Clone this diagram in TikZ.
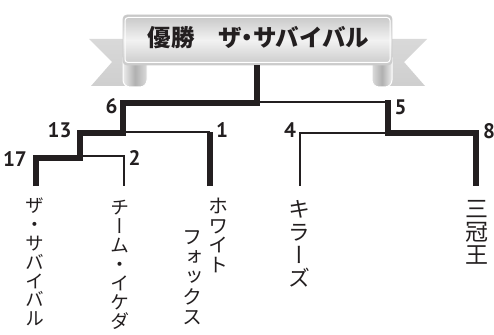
\documentclass[tikz,border=0pt]{standalone}
\usepackage{fontspec}
\newfontfamily\jpv[RawFeature=+vert]{Noto Sans CJK JP}
\newfontfamily\jph{Noto Sans CJK JP}
\newfontfamily\numf{PT Sans}
\definecolor{ink}{HTML}{231F20}
\definecolor{band}{HTML}{F2F2F2}
\tikzset{
  winline/.style={draw=ink, line width=6pt, line join=miter, line cap=butt},
  loseline/.style={draw=ink, line width=1.3pt, line join=miter},
  score/.style={font=\numf\bfseries\fontsize{21}{22}\selectfont, text=ink, inner sep=0pt, anchor=base},
  vlabel/.style={text=ink, inner sep=0pt, anchor=north, align=center},
  tail/.style={top color=gray!30, bottom color=gray!38},
}
\newcommand{\vfont}[2]{\jpv\fontsize{#1}{#2}\selectfont\lineskiplimit=-100pt\lineskip=0pt}
\begin{document}
\begin{tikzpicture}[x=1pt,y=-1pt]
\path[use as bounding box] (0,0) rectangle (494,334);

% ---------- ribbon ----------
\shade[tail] (89,39) -- (140,39) -- (140,86) -- (91,86) -- (112,62) -- cycle;
\shade[tail] (427,39) -- (375,39) -- (375,86) -- (425,86) -- (404,62) -- cycle;
% folds
\shade[left color=gray!15, right color=gray!28, middle color=gray!62, draw=white, line width=1pt]
  (147,58) -- (123,58) [rounded corners=7pt] -- (123,87) -- (147,87) [sharp corners] -- cycle;
\shade[left color=gray!28, right color=gray!15, middle color=gray!62, draw=white, line width=1pt]
  (372,58) -- (392,58) [rounded corners=7pt] -- (392,87) -- (372,87) [sharp corners] -- cycle;
% main band
\shade[top color=gray!45, bottom color=gray!42, middle color=band, draw=gray!40, line width=0.8pt, rounded corners=4pt]
  (123,15) rectangle (392,65);
\draw[white, line width=1pt, rounded corners=3pt] (125,17.5) rectangle (390,62.5);
\node[font=\jph\bfseries\fontsize{23.5}{24}\selectfont, text=ink, inner sep=0pt] (title) at (258.5,38)
  {優勝　ザ\hspace{-.25em}・\hspace{-.25em}サバイバル};

% ---------- bracket ----------
\coordinate (top) at (257,65);
\coordinate (l17) at (36,186);
\coordinate (l2) at (124,186);
\coordinate (l1) at (210,186);
\coordinate (l4) at (300,186);
\coordinate (l8) at (476,186);
\coordinate (c17) at (36,157.5);
\coordinate (c13) at (80,133);
\coordinate (c6) at (123,103);
\coordinate (c5) at (388,102);
\coordinate (c8) at (476,133);

% thin (losing) lines
\draw[loseline] (80,156) -| (l2);
\draw[loseline] (123,132) -- (210,132);
\draw[loseline] (257,102) -- (c5);
\draw[loseline] (388,133) -| (l4);

% thick (winning) lines
\draw[winline] (l17) -- (c17) -- (80,157.5) -- (c13) -- (123,133) -- (c6) -- (257,103) -- (top);
\draw[winline] (l1) -- (210,132);
\draw[winline] (388,100) -- (388,133) -- (c8) -- (l8);

% scores
\node[score] (s17) at (15,166) {17};
\node[score] (s13) at (59.5,137.5) {13};
\node[score] (s6) at (111.5,113.5) {6};
\node[score] (s2) at (134.5,165.5) {2};
\node[score] (s1) at (222,137.5) {1};
\node[score] (s4) at (290,137.5) {4};
\node[score] (s5) at (400.5,114.5) {5};
\node[score] (s8) at (489,138.5) {8};

% team names (vertical)
\node[vlabel, font=\vfont{18.8}{18.8}] (n1) at (35,198) {ザ\\・\\サ\\バ\\イ\\バ\\ル};
\node[vlabel, font=\vfont{19}{19}] (n2) at (120,200) {チ\\ー\\ム\\・\\イ\\ケ\\ダ};
\node[vlabel, font=\vfont{20}{19.5}] (n3) at (218,198) {ホ\\ワ\\イ\\ト};
\node[vlabel, font=\vfont{20}{20}] (n3b) at (192,230) {フ\\ォ\\ッ\\ク\\ス};
\node[vlabel, font=\vfont{22}{23}] (n4) at (299,200) {キ\\ラ\\ー\\ズ};
\node[vlabel, font=\vfont{23}{23}] (n5) at (476.5,200) {三\\冠\\王};
\end{tikzpicture}
\end{document}
